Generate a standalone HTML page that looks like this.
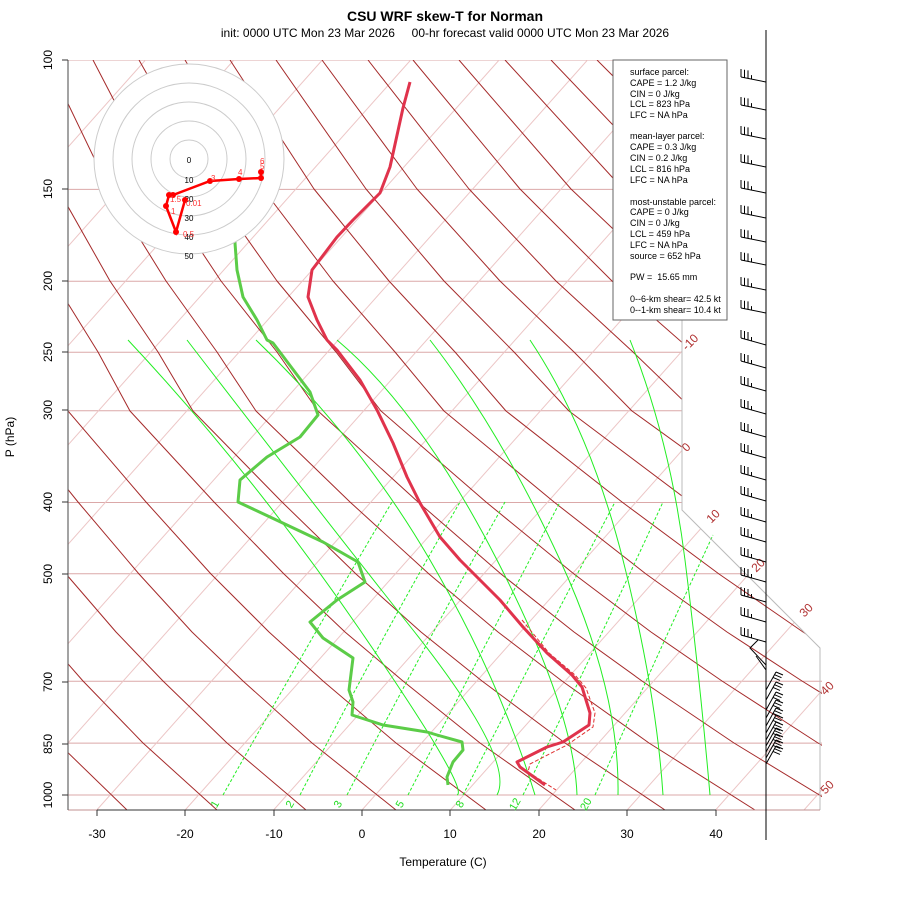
<!DOCTYPE html>
<html><head><meta charset="utf-8"><style>
html,body{margin:0;padding:0;background:#fff;}
svg{display:block;font-family:"Liberation Sans",sans-serif;}
</style></head><body>
<svg width="900" height="900" viewBox="0 0 900 900" xmlns="http://www.w3.org/2000/svg" xmlns:xlink="http://www.w3.org/1999/xlink">
<defs>
<clipPath id="cp"><polygon points="68,60 682,60 682,510 822,650 822,810 68,810"/></clipPath>
<g id="b" fill="none" stroke="#000" stroke-width="1"><path d="M766,0 L741,-5 M741,-5 l0,-8 M744.5,-4.3 l0,-8 M748,-3.6 l0,-8 M751.5,-2.9 l0,-4"/></g>
<g id="b2" fill="none" stroke="#000" stroke-width="1"><path d="M766,0 L741,-7 M741,-7 l0,-8 M744.5,-6 l0,-8 M748,-5 l0,-8 M751.5,-4 l0,-4"/></g>
<g id="c" fill="none" stroke="#000" stroke-width="1"><path d="M766,0 L776,-18 M776,-18 l7,3 M774.5,-15.3 l7,3 M773,-12.6 l7,3"/></g>
</defs>
<rect width="900" height="900" fill="#fff"/>
<g clip-path="url(#cp)">
<g stroke="#dba8a8" stroke-width="1">
<line x1="68" y1="60" x2="830" y2="60"/><line x1="68" y1="189.4" x2="830" y2="189.4"/><line x1="68" y1="281.3" x2="830" y2="281.3"/><line x1="68" y1="352.3" x2="830" y2="352.3"/><line x1="68" y1="410.7" x2="830" y2="410.7"/><line x1="68" y1="502.5" x2="830" y2="502.5"/><line x1="68" y1="573.7" x2="830" y2="573.7"/><line x1="68" y1="681.2" x2="830" y2="681.2"/><line x1="68" y1="743.1" x2="830" y2="743.1"/><line x1="68" y1="795" x2="830" y2="795"/>
</g>
<g stroke="#ecc6c6" stroke-width="1">
<line x1="-610" y1="810" x2="57" y2="60"/><line x1="-522" y1="810" x2="145.5" y2="60"/><line x1="-433.6" y1="810" x2="233.9" y2="60"/><line x1="-345.2" y1="810" x2="322.3" y2="60"/><line x1="-256.8" y1="810" x2="410.7" y2="60"/><line x1="-168.4" y1="810" x2="499.1" y2="60"/><line x1="-80" y1="810" x2="587.5" y2="60"/><line x1="8.4" y1="810" x2="675.9" y2="60"/><line x1="96.8" y1="810" x2="764.3" y2="60"/><line x1="185.2" y1="810" x2="852.7" y2="60"/><line x1="273.6" y1="810" x2="941.1" y2="60"/><line x1="362" y1="810" x2="1029.5" y2="60"/><line x1="450.4" y1="810" x2="1117.9" y2="60"/><line x1="538.8" y1="810" x2="1206.3" y2="60"/><line x1="627.2" y1="810" x2="1294.7" y2="60"/><line x1="715.6" y1="810" x2="1383.1" y2="60"/><line x1="804" y1="810" x2="1471.5" y2="60"/>
</g>
<g fill="none" stroke="#a52a2a" stroke-width="1" stroke-linejoin="round">
<polyline points="127,810 58,743 3,681"/>
<polyline points="217,810 143,743 83,681 40,632 -7,574"/>
<polyline points="306,810 227,743 163,681 116,632 66,574 10,502"/>
<polyline points="396,810 312,743 243,681 192,632 139,574 78,502 5,411 -21,352"/>
<polyline points="486,810 396,743 323,681 269,632 211,574 146,502 68,411 39,352 -2,281"/>
<polyline points="575,810 480,743 403,681 345,632 284,574 214,502 130,411 98,352 54,281 6,189"/>
<polyline points="665,810 565,743 482,681 421,632 356,574 282,502 193,411 158,352 110,281 58,189 2,60"/>
<polyline points="755,810 649,743 562,681 498,632 429,574 350,502 256,411 217,352 166,281 109,189 47,60"/>
<polyline points="844,810 734,743 642,681 574,632 501,574 418,502 318,411 277,352 221,281 160,189 93,60"/>
<polyline points="934,810 818,743 722,681 651,632 574,574 486,502 381,411 336,352 277,281 212,189 139,60"/>
<polyline points="1023,810 902,743 802,681 727,632 646,574 554,502 444,411 395,352 333,281 263,189 185,60"/>
<polyline points="987,743 881,681 803,632 719,574 622,502 506,411 455,352 389,281 314,189 230,60"/>
<polyline points="1071,743 961,681 880,632 791,574 690,502 569,411 514,352 444,281 366,189 276,60"/>
<polyline points="1041,681 956,632 864,574 758,502 632,411 574,352 500,281 417,189 322,60"/>
<polyline points="1121,681 1033,632 936,574 826,502 694,411 633,352 556,281 469,189 368,60"/>
<polyline points="1201,681 1109,632 1009,574 894,502 757,411 693,352 612,281 520,189 413,60"/>
<polyline points="1081,574 962,502 819,411 753,352 668,281 571,189 459,60"/>
<polyline points="1154,574 1030,502 882,411 812,352 723,281 623,189 505,60"/>
<polyline points="1226,574 1098,502 945,411 871,352 779,281 674,189 551,60"/>
<polyline points="1166,502 1007,411 931,352 835,281 726,189 597,60"/>
<polyline points="1234,502 1070,411 990,352 891,281 777,189 642,60"/>
</g>
<g fill="none" stroke="#22ee22" stroke-width="1">
<path d="M128,340 Q250,470 360,630 T457,795"/>
<path d="M187,340 Q310,500 413,630 T497,795"/>
<path d="M256,340 Q360,440 430,560 T535,795"/>
<path d="M337,340 Q420,410 497,560 T577,795"/>
<path d="M430,340 Q500,430 560,560 T618,795"/>
<path d="M530,340 Q590,430 623,560 T663,795"/>
<path d="M630,340 Q670,440 685,560 T710,795"/>
</g>
</g>
<g fill="none" stroke="#22ee22" stroke-width="1" stroke-dasharray="3,2">
<path d="M223,795 Q310,640 392,502"/>
<path d="M300,795 Q380,640 460,502"/>
<path d="M347,795 Q425,645 505,502"/>
<path d="M408,795 Q485,645 560,502"/>
<path d="M463,795 Q540,645 615,502"/>
<path d="M523,795 Q595,650 663,502"/>
<path d="M595,795 Q655,660 713,535"/>
</g>
<polyline points="682,60 682,510 820,648 820,810" fill="none" stroke="#bbb" stroke-width="1"/>
<line x1="68" y1="810" x2="820" y2="810" stroke="#c09090" stroke-width="1"/>
<line x1="68" y1="60" x2="68" y2="810" stroke="#666" stroke-width="1.2"/>
<g stroke="#333" stroke-width="1">
<line x1="62" y1="60" x2="68" y2="60"/><line x1="62" y1="189" x2="68" y2="189"/><line x1="62" y1="281" x2="68" y2="281"/><line x1="62" y1="352" x2="68" y2="352"/><line x1="62" y1="410" x2="68" y2="410"/><line x1="62" y1="502" x2="68" y2="502"/><line x1="62" y1="574" x2="68" y2="574"/><line x1="62" y1="682" x2="68" y2="682"/><line x1="62" y1="744" x2="68" y2="744"/><line x1="62" y1="795" x2="68" y2="795"/>
<line x1="97" y1="810" x2="716" y2="810"/>
<line x1="97" y1="810" x2="97" y2="816"/><line x1="185" y1="810" x2="185" y2="816"/><line x1="274" y1="810" x2="274" y2="816"/><line x1="362" y1="810" x2="362" y2="816"/><line x1="450" y1="810" x2="450" y2="816"/><line x1="539" y1="810" x2="539" y2="816"/><line x1="627" y1="810" x2="627" y2="816"/><line x1="716" y1="810" x2="716" y2="816"/>
</g>
<g font-size="12" fill="#000" text-anchor="middle">
<text x="97" y="838">-30</text><text x="185" y="838">-20</text><text x="274" y="838">-10</text><text x="362" y="838">0</text><text x="450" y="838">10</text><text x="539" y="838">20</text><text x="627" y="838">30</text><text x="716" y="838">40</text>
<text transform="translate(52,60) rotate(-90)">100</text>
<text transform="translate(52,189) rotate(-90)">150</text>
<text transform="translate(52,281) rotate(-90)">200</text>
<text transform="translate(52,352) rotate(-90)">250</text>
<text transform="translate(52,410) rotate(-90)">300</text>
<text transform="translate(52,502) rotate(-90)">400</text>
<text transform="translate(52,574) rotate(-90)">500</text>
<text transform="translate(52,682) rotate(-90)">700</text>
<text transform="translate(52,744) rotate(-90)">850</text>
<text transform="translate(52,795) rotate(-90)">1000</text>
<text x="443" y="866">Temperature (C)</text>
<text transform="translate(14,437) rotate(-90)">P (hPa)</text>
<text x="445" y="21" font-weight="bold" font-size="14">CSU WRF skew-T for Norman</text>
<text x="445" y="37" style="white-space:pre" xml:space="preserve">init: 0000 UTC Mon 23 Mar 2026     00-hr forecast valid 0000 UTC Mon 23 Mar 2026</text>
</g>
<g font-size="12" fill="#b03030" text-anchor="middle">
<text transform="translate(693,345) rotate(-45)">-10</text>
<text transform="translate(689,450) rotate(-45)">0</text>
<text transform="translate(716,519) rotate(-45)">10</text>
<text transform="translate(761,568) rotate(-45)">20</text>
<text transform="translate(809,613) rotate(-45)">30</text>
<text transform="translate(830,691) rotate(-45)">40</text>
<text transform="translate(830,790) rotate(-45)">50</text>
</g>
<g font-size="11" fill="#22dd22" text-anchor="middle">
<text transform="translate(218,806) rotate(-60)">1</text>
<text transform="translate(293,806) rotate(-60)">2</text>
<text transform="translate(341,806) rotate(-60)">3</text>
<text transform="translate(403,806) rotate(-60)">5</text>
<text transform="translate(463,806) rotate(-60)">8</text>
<text transform="translate(518,806) rotate(-60)">12</text>
<text transform="translate(589,806) rotate(-60)">20</text>
</g>
<polyline fill="none" stroke="#5ccc48" stroke-width="3" stroke-linejoin="round" points="235,230 235,243 237,270 243,297 257,320 267,340 273,343 310,392 318,415 300,437 267,457 240,480 238,502 270,517 323,542 358,562 365,582 337,600 310,622 323,638 353,658 349,690 353,702 352,715 383,725 427,732 437,735 462,742 463,750 453,762 447,777 448,785"/>
<polyline fill="none" stroke="#e03030" stroke-width="1" stroke-dasharray="4,2" points="522,620 549,653 575,675 586,688 595,713 593,727 567,745 530,764 528,772 556,790"/>
<polyline fill="none" stroke="#e0334c" stroke-width="3" stroke-linejoin="round" points="410,82 403,108 392,158 390,167 380,193 353,220 337,237 312,270 308,297 317,320 327,340 337,350 360,380 377,410 393,443 407,477 420,503 440,537 460,560 480,580 500,600 523,627 547,653 572,675 582,687 590,713 589,725 563,742 547,747 517,762 520,767 545,785"/>
<g fill="#fff" stroke="#ccc" stroke-width="1">
<circle cx="189" cy="159" r="95"/><circle cx="189" cy="159" r="76"/><circle cx="189" cy="159" r="57"/><circle cx="189" cy="159" r="38"/><circle cx="189" cy="159" r="19"/>
</g>
<g font-size="8" fill="#000" text-anchor="middle">
<text x="189" y="163">0</text><text x="189" y="183">10</text><text x="189" y="202">20</text><text x="189" y="221">30</text><text x="189" y="240">40</text><text x="189" y="259">50</text>
</g>
<polyline fill="none" stroke="#f00" stroke-width="2.5" points="185,200 176,232 166,206 169,195 173,195 210,181 239,179 261,178 261,172"/>
<g fill="#f00">
<circle cx="185" cy="200" r="3"/><circle cx="176" cy="232" r="3"/><circle cx="166" cy="206" r="3"/><circle cx="169" cy="195" r="3"/><circle cx="173" cy="195" r="3"/><circle cx="210" cy="181" r="3"/><circle cx="239" cy="179" r="3"/><circle cx="261" cy="178" r="3"/><circle cx="261" cy="172" r="3"/>
</g>
<g font-size="8" fill="#f33">
<text x="186" y="206">0.01</text><text x="183" y="237">0.5</text><text x="171" y="214">1</text><text x="170" y="202">1.5</text><text x="211" y="181">3</text><text x="238" y="175">4</text><text x="260" y="169">5</text><text x="260" y="164">6</text>
</g>
<rect x="613" y="60" width="114" height="260" fill="#fff" stroke="#666" stroke-width="1"/>
<g font-size="9" fill="#000">
<text x="630" y="75">surface parcel:</text>
<text x="630" y="86">CAPE = 1.2 J/kg</text>
<text x="630" y="97">CIN = 0 J/kg</text>
<text x="630" y="107">LCL = 823 hPa</text>
<text x="630" y="118">LFC = NA hPa</text>
<text x="630" y="139">mean-layer parcel:</text>
<text x="630" y="150">CAPE = 0.3 J/kg</text>
<text x="630" y="161">CIN = 0.2 J/kg</text>
<text x="630" y="172">LCL = 816 hPa</text>
<text x="630" y="183">LFC = NA hPa</text>
<text x="630" y="205">most-unstable parcel:</text>
<text x="630" y="215">CAPE = 0 J/kg</text>
<text x="630" y="226">CIN = 0 J/kg</text>
<text x="630" y="237">LCL = 459 hPa</text>
<text x="630" y="248">LFC = NA hPa</text>
<text x="630" y="259">source = 652 hPa</text>
<text x="630" y="280" style="white-space:pre" xml:space="preserve">PW =  15.65 mm</text>
<text x="630" y="302">0--6-km shear= 42.5 kt</text>
<text x="630" y="313">0--1-km shear= 10.4 kt</text>
</g>
<line x1="766" y1="30" x2="766" y2="840" stroke="#000" stroke-width="1"/>
<use xlink:href="#b" href="#b" y="82"/><use xlink:href="#b" href="#b" y="110"/><use xlink:href="#b" href="#b" y="139"/><use xlink:href="#b" href="#b" y="167"/><use xlink:href="#b" href="#b" y="193"/><use xlink:href="#b" href="#b" y="218"/><use xlink:href="#b" href="#b" y="242"/><use xlink:href="#b" href="#b" y="265"/><use xlink:href="#b" href="#b" y="290"/><use xlink:href="#b" href="#b" y="313"/>
<use xlink:href="#b2" href="#b2" y="345"/><use xlink:href="#b2" href="#b2" y="368"/><use xlink:href="#b2" href="#b2" y="391"/><use xlink:href="#b2" href="#b2" y="414"/><use xlink:href="#b2" href="#b2" y="437"/><use xlink:href="#b2" href="#b2" y="458"/><use xlink:href="#b2" href="#b2" y="480"/><use xlink:href="#b2" href="#b2" y="501"/><use xlink:href="#b2" href="#b2" y="522"/><use xlink:href="#b2" href="#b2" y="542"/><use xlink:href="#b2" href="#b2" y="562"/><use xlink:href="#b2" href="#b2" y="582"/><use xlink:href="#b2" href="#b2" y="602"/><use xlink:href="#b2" href="#b2" y="622"/><use xlink:href="#b2" href="#b2" y="642"/>
<path d="M766,665 L750,648 L758,640 M766,670 L756,656" fill="none" stroke="#000"/>
<use xlink:href="#c" href="#c" y="690"/><use xlink:href="#c" href="#c" y="700"/><use xlink:href="#c" href="#c" y="710"/><use xlink:href="#c" href="#c" y="718"/><use xlink:href="#c" href="#c" y="726"/><use xlink:href="#c" href="#c" y="733"/><use xlink:href="#c" href="#c" y="740"/><use xlink:href="#c" href="#c" y="746"/><use xlink:href="#c" href="#c" y="752"/><use xlink:href="#c" href="#c" y="758"/><use xlink:href="#c" href="#c" y="764"/>
</svg>
</body></html>
